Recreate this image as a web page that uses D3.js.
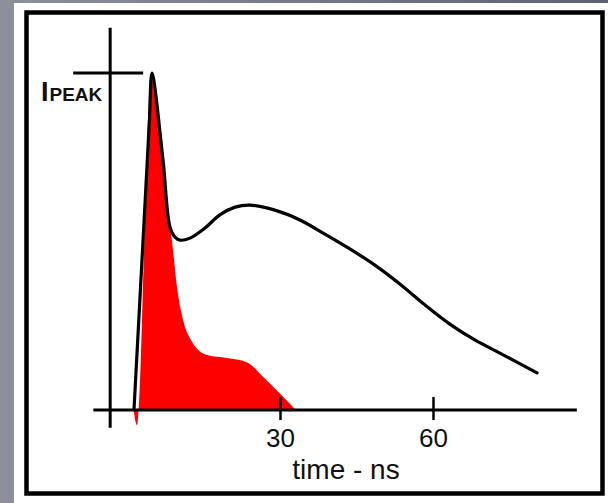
<!DOCTYPE html>
<html>
<head>
<meta charset="utf-8">
<script src="https://cdn.jsdelivr.net/npm/d3@7"></script>
<style>
  html, body { margin: 0; padding: 0; }
  body { width: 608px; height: 503px; overflow: hidden; }
</style>
</head>
<body>
<div id="chart"></div>
<script>
// total current (black line), t in ns, value as fraction of Ipeak
const totalTime = [1.37, 2.5, 3.7, 4.4, 4.9, 7.06, 8.43, 9.41, 10.4, 12.35, 15.3, 18.2, 21.2, 24.1, 29.0, 33.9, 38.8, 43.7, 48.6, 53.5, 58.4, 63.3, 68.2, 73.1, 80.4];
const totalValue = [0, 0.32, 0.66, 0.86, 1.0, 0.742, 0.543, 0.513, 0.504, 0.51, 0.54, 0.579, 0.602, 0.608, 0.593, 0.564, 0.522, 0.478, 0.43, 0.374, 0.312, 0.255, 0.208, 0.169, 0.11];

// prompt component (red area)
const promptTime = [1.3, 1.96, 2.35, 3.5, 4.5, 4.75, 7.06, 8.43, 8.8, 9.8, 11.0, 12.9, 15.7, 19.6, 23.5, 26.7, 30.6, 33.1];
const promptValue = [0, -0.045, 0.02, 0.55, 0.97, 0.99, 0.742, 0.543, 0.504, 0.365, 0.267, 0.199, 0.163, 0.154, 0.142, 0.098, 0.039, 0];

const tickValues = [30, 60];
const xLabel = "time - ns";

const W = 608, H = 503;

const svg = d3.select("#chart").append("svg")
    .attr("width", W)
    .attr("height", H);

// grey backdrop
const defs = svg.append("defs");
const grad = defs.append("linearGradient").attr("id", "bg")
    .attr("x1", "0%").attr("y1", "0%").attr("x2", "100%").attr("y2", "0%");
grad.append("stop").attr("offset", "0%").attr("stop-color", "#8b909b");
grad.append("stop").attr("offset", "100%").attr("stop-color", "#5d6271");
svg.append("rect").attr("width", W).attr("height", H).attr("fill", "url(#bg)");
svg.append("rect").attr("x", 14).attr("y", 3).attr("width", W - 14).attr("height", H - 3).attr("fill", "#fff");
svg.append("rect")
    .attr("x", 26.5).attr("y", 12.5).attr("width", 576).attr("height", 481)
    .attr("fill", "none").attr("stroke", "#000").attr("stroke-width", 4.5);

let x = d3.scaleLinear().domain([0, 60]).range([127, 433]);
let y = d3.scaleLinear().domain([0, 1]).range([410, 73]);

const prompt = promptTime.map((t, i) => ({t: t, v: promptValue[i]}));
const total = totalTime.map((t, i) => ({t: t, v: totalValue[i]}));

// red area
svg.append("path")
    .datum(prompt)
    .attr("fill", "#ff0000")
    .attr("d", d3.area()
        .curve(d3.curveMonotoneX)
        .x(function(d) { return x(d.t); })
        .y0(y(0))
        .y1(function(d) { return y(d.v); }));

// axes
const axisX = x(-3.3);
svg.append("line")
    .attr("x1", axisX).attr("x2", axisX)
    .attr("y1", y(1.134)).attr("y2", y(-0.053))
    .attr("stroke", "#000").attr("stroke-width", 3);
svg.append("line")
    .attr("x1", x(-6.6)).attr("x2", x(88.2))
    .attr("y1", y(0)).attr("y2", y(0))
    .attr("stroke", "#000").attr("stroke-width", 3);

// Ipeak marker
svg.append("line")
    .attr("x1", axisX - 37).attr("x2", axisX + 33)
    .attr("y1", y(1)).attr("y2", y(1))
    .attr("stroke", "#000").attr("stroke-width", 3);

const peakLabel = svg.append("text")
    .attr("x", 41).attr("y", 100.5)
    .attr("font-family", "Liberation Sans, Arial, sans-serif")
    .attr("font-weight", "bold")
    .attr("fill", "#111");
peakLabel.append("tspan").attr("font-size", 27).text("I");
peakLabel.append("tspan").attr("font-size", 19).attr("dx", 1).text("PEAK");

// x ticks
const gx = svg.append("g")
    .attr("transform", "translate(0," + y(0) + ")")
    .call(d3.axisBottom(x).tickValues(tickValues).tickSize(10).tickPadding(8.5));
gx.select(".domain").remove();
gx.selectAll(".tick line").attr("y1", -13).attr("stroke", "#000").attr("stroke-width", 2.5);
gx.selectAll(".tick text")
    .attr("font-family", "Liberation Sans, Arial, sans-serif")
    .attr("font-size", 26)
    .attr("fill", "#111");

svg.append("text")
    .attr("x", 346).attr("y", 479)
    .attr("text-anchor", "middle")
    .attr("font-family", "Liberation Sans, Arial, sans-serif")
    .attr("font-size", 28)
    .attr("fill", "#111")
    .text(xLabel);

// black line
svg.append("path")
    .datum(total)
    .attr("fill", "none")
    .attr("stroke", "#000")
    .attr("stroke-width", 3.2)
    .attr("stroke-linejoin", "round")
    .attr("stroke-linecap", "round")
    .attr("d", d3.line()
        .curve(d3.curveCatmullRom.alpha(0.5))
        .x(function(d) { return x(d.t); })
        .y(function(d) { return y(d.v); }));
</script>
</body>
</html>
